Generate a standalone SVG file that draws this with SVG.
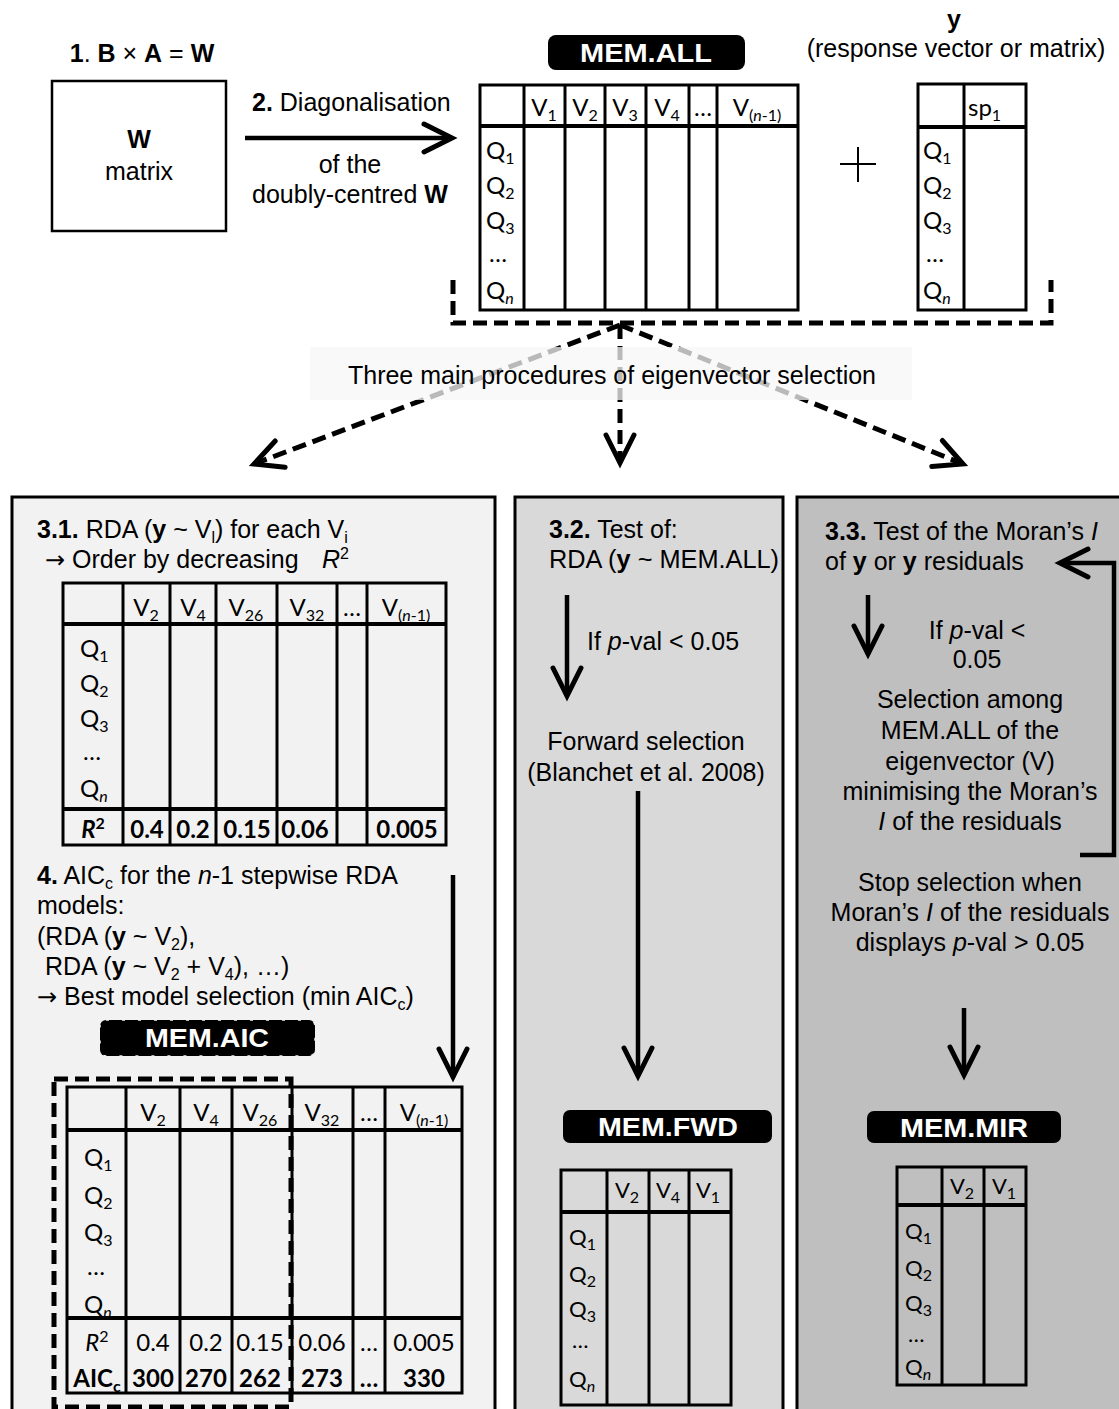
<svg xmlns="http://www.w3.org/2000/svg" width="1119" height="1409" viewBox="0 0 1119 1409">
<defs>
<style>
.t{font-family:"Liberation Sans",Arial,sans-serif;font-size:25px;fill:#000}
.c{font-family:Lato,"Open Sans","Liberation Sans",sans-serif;font-size:24px;fill:#000}
.c2{font-family:Lato,"Open Sans","Liberation Sans",sans-serif;font-size:22px;fill:#000}
.m{text-anchor:middle}
.b{font-weight:bold}
.i{font-style:italic}
.s{font-size:16px}
.ar{font-family:"DejaVu Sans",sans-serif;font-size:24px}
.lab{font-family:"Liberation Sans",Arial,sans-serif;font-size:25px;font-weight:bold;fill:#fff;text-anchor:middle}
.grid{fill:none;stroke:#000;stroke-width:3}
.hl{stroke:#000;stroke-width:4;fill:none}
.vl{stroke:#000;stroke-width:3;fill:none}
.arr{fill:none;stroke:#000;stroke-width:4.5;marker-end:url(#chev)}
.dash{fill:none;stroke:#000;stroke-width:5;stroke-dasharray:14 7}
.panel{stroke:#000;stroke-width:3}
</style>
<marker id="chev" markerUnits="userSpaceOnUse" viewBox="0 0 40 40" markerWidth="40" markerHeight="40" refX="37" refY="20" orient="auto" overflow="visible">
<path d="M9,6 L37,20 L9,34" fill="none" stroke="#000" stroke-width="5" stroke-linecap="round"/>
</marker>
</defs>
<rect x="0" y="0" width="1119" height="1409" fill="#fff"/>

<!-- Step 1: W matrix -->
<g id="w-matrix">
<text class="t m" x="142" y="62"><tspan class="b">1</tspan>. <tspan class="b">B</tspan> × <tspan class="b">A</tspan> = <tspan class="b">W</tspan></text>
<rect x="52" y="81" width="174" height="150" fill="#fff" stroke="#000" stroke-width="2.5"/>
<text class="t m b" x="139" y="148">W</text>
<text class="t m" x="139" y="180">matrix</text>
</g>

<!-- Step 2 label -->
<g id="diag-label">
<text class="t" x="252" y="111"><tspan class="b">2.</tspan> Diagonalisation</text>
<text class="t m" x="350" y="173">of the</text>
<text class="t m" x="350" y="203">doubly-centred <tspan class="b">W</tspan></text>
</g>

<!-- MEM.ALL -->
<g id="mem-all">
<rect x="548" y="35" width="197" height="35" rx="8" fill="#000"/>
<text class="lab" x="646" y="62" textLength="132" lengthAdjust="spacingAndGlyphs">MEM.ALL</text>
<rect x="480" y="85" width="318" height="225" class="grid"/>
<path class="hl" d="M480,126H798"/>
<path class="vl" d="M524,85V310M565,85V310M605,85V310M646,85V310M689,85V310M717,85V310"/>
<text class="c m" x="544" y="116">V<tspan class="s" dy="5">1</tspan></text>
<text class="c m" x="585" y="116">V<tspan class="s" dy="5">2</tspan></text>
<text class="c m" x="625" y="116">V<tspan class="s" dy="5">3</tspan></text>
<text class="c m" x="667" y="116">V<tspan class="s" dy="5">4</tspan></text>
<text class="c m" x="703" y="116">…</text>
<text class="c m" x="757" y="116">V<tspan class="s" dy="5">(<tspan class="i">n</tspan>-1)</tspan></text>
<text class="c" x="486" y="159">Q<tspan class="s" dy="5">1</tspan></text>
<text class="c" x="486" y="194">Q<tspan class="s" dy="5">2</tspan></text>
<text class="c" x="486" y="229">Q<tspan class="s" dy="5">3</tspan></text>
<text class="c" x="489" y="262">…</text>
<text class="c" x="486" y="299">Q<tspan class="s i" dy="5">n</tspan></text>
</g>

<!-- plus -->
<g id="plus">
<path d="M840,164H876M858,147V182" stroke="#000" stroke-width="2" fill="none"/>
</g>

<!-- y response -->
<g id="y-response">
<text class="t m b" x="954" y="28">y</text>
<text class="t m" x="956" y="57">(response vector or matrix)</text>
<rect x="918" y="84" width="108" height="226" class="grid"/>
<path class="hl" d="M918,127H1026"/>
<path class="vl" d="M964,84V310"/>
<text class="c" x="968" y="116">sp<tspan class="s" dy="5">1</tspan></text>
<text class="c" x="923" y="159">Q<tspan class="s" dy="5">1</tspan></text>
<text class="c" x="923" y="194">Q<tspan class="s" dy="5">2</tspan></text>
<text class="c" x="923" y="229">Q<tspan class="s" dy="5">3</tspan></text>
<text class="c" x="926" y="262">…</text>
<text class="c" x="923" y="299">Q<tspan class="s i" dy="5">n</tspan></text>
</g>

<!-- Panels -->
<g id="panel-31">
<rect x="12" y="497" width="483" height="930" fill="#f2f2f2" class="panel"/>
</g>
<g id="panel-32">
<rect x="515" y="497" width="268" height="930" fill="#d9d9d9" class="panel"/>
</g>
<g id="panel-33">
<rect x="797" y="497" width="340" height="930" fill="#bfbfbf" class="panel"/>
</g>

<!-- Connectors -->
<g id="connectors">
<path class="arr" d="M245,138H452"/>
<path class="dash" d="M453,280V323H1051V280"/>
<path class="dash" d="M620,325L254,464" marker-end="url(#chev)"/>
<path class="dash" d="M620,325V463" marker-end="url(#chev)"/>
<path class="dash" d="M620,325L963,464" marker-end="url(#chev)"/>
<path class="arr" d="M453,875V1077"/>
<path class="arr" d="M567,595V696"/>
<path class="arr" d="M638,791V1076"/>
<path class="arr" d="M868,595V654"/>
<path class="arr" d="M964,1008V1075"/>
<path class="arr" d="M1080,855H1114V563H1060"/>
</g>

<!-- band label -->
<g id="three-procedures">
<rect x="310" y="347" width="602" height="53" fill="#f7f7f7" fill-opacity="0.75"/>
<text class="t m" x="612" y="384">Three main procedures of eigenvector selection</text>
</g>

<!-- Panel 3.1 content -->
<g id="step-31">
<text class="t" x="37" y="538"><tspan class="b">3.1.</tspan> RDA (<tspan class="b">y</tspan> ~ V<tspan class="s" dy="5">l</tspan><tspan dy="-5">) for each V</tspan><tspan class="s" dy="5">i</tspan></text>
<text class="t" x="45" y="568"><tspan class="ar">→</tspan> Order by decreasing<tspan class="i" x="322">R</tspan><tspan class="s" dy="-9">2</tspan></text>
<rect x="63" y="583" width="383" height="262" class="grid"/>
<path class="hl" d="M63,624H446M63,809H446"/>
<path class="vl" d="M123,583V845M170,583V845M216,583V845M277,583V845M337,583V845M367,583V845"/>
<text class="c m" x="146" y="616">V<tspan class="s" dy="5">2</tspan></text>
<text class="c m" x="193" y="616">V<tspan class="s" dy="5">4</tspan></text>
<text class="c m" x="246" y="616">V<tspan class="s" dy="5">26</tspan></text>
<text class="c m" x="307" y="616">V<tspan class="s" dy="5">32</tspan></text>
<text class="c m" x="352" y="616">…</text>
<text class="c m" x="406" y="616">V<tspan class="s" dy="5">(<tspan class="i">n</tspan>-1)</tspan></text>
<text class="c" x="80" y="657">Q<tspan class="s" dy="5">1</tspan></text>
<text class="c" x="80" y="692">Q<tspan class="s" dy="5">2</tspan></text>
<text class="c" x="80" y="727">Q<tspan class="s" dy="5">3</tspan></text>
<text class="c" x="83" y="760">…</text>
<text class="c" x="80" y="797">Q<tspan class="s i" dy="5">n</tspan></text>
<text class="c m b" x="93" y="838"><tspan class="i">R</tspan><tspan class="s" dy="-9">2</tspan></text>
<text class="c m b" x="147" y="838">0.4</text>
<text class="c m b" x="193" y="838">0.2</text>
<text class="c m b" x="247" y="838">0.15</text>
<text class="c m b" x="305" y="838">0.06</text>
<text class="c m b" x="407" y="838">0.005</text>
</g>

<!-- Panel step 4 content -->
<g id="step-4">
<text class="t" x="37" y="884"><tspan class="b">4.</tspan> AIC<tspan class="s" dy="5">c</tspan><tspan dy="-5"> for the </tspan><tspan class="i">n</tspan>-1 stepwise RDA</text>
<text class="t" x="37" y="914">models:</text>
<text class="t" x="37" y="945">(RDA (<tspan class="b">y</tspan> ~ V<tspan class="s" dy="5">2</tspan><tspan dy="-5">),</tspan></text>
<text class="t" x="45" y="975">RDA (<tspan class="b">y</tspan> ~ V<tspan class="s" dy="5">2</tspan><tspan dy="-5"> + V</tspan><tspan class="s" dy="5">4</tspan><tspan dy="-5">), …)</tspan></text>
<text class="t" x="37" y="1005"><tspan class="ar">→</tspan> Best model selection (min AIC<tspan class="s" dy="5">c</tspan><tspan dy="-5">)</tspan></text>
</g>

<g id="mem-aic">
<rect x="100" y="1020" width="215" height="36" rx="6" fill="#000"/>
<rect x="100" y="1020" width="215" height="36" rx="6" fill="none" stroke="#f2f2f2" stroke-width="1.5" stroke-dasharray="3 13"/>
<text class="lab" x="207" y="1047" textLength="124" lengthAdjust="spacingAndGlyphs">MEM.AIC</text>
<rect x="67" y="1087" width="395" height="306" class="grid"/>
<path class="hl" d="M67,1130H462M67,1318H462"/>
<path class="vl" d="M126,1087V1393M180,1087V1393M232,1087V1393M292,1087V1393M353,1087V1393M385,1087V1393"/>
<text class="c m" x="153" y="1121">V<tspan class="s" dy="5">2</tspan></text>
<text class="c m" x="206" y="1121">V<tspan class="s" dy="5">4</tspan></text>
<text class="c m" x="260" y="1121">V<tspan class="s" dy="5">26</tspan></text>
<text class="c m" x="322" y="1121">V<tspan class="s" dy="5">32</tspan></text>
<text class="c m" x="369" y="1121">…</text>
<text class="c m" x="424" y="1121">V<tspan class="s" dy="5">(<tspan class="i">n</tspan>-1)</tspan></text>
<text class="c" x="84" y="1166">Q<tspan class="s" dy="5">1</tspan></text>
<text class="c" x="84" y="1204">Q<tspan class="s" dy="5">2</tspan></text>
<text class="c" x="84" y="1241">Q<tspan class="s" dy="5">3</tspan></text>
<text class="c" x="87" y="1275">…</text>
<text class="c" x="84" y="1313">Q<tspan class="s i" dy="5">n</tspan></text>
<text class="c m" x="97" y="1351"><tspan class="i">R</tspan><tspan class="s" dy="-9">2</tspan></text>
<text class="c m" x="153" y="1351">0.4</text>
<text class="c m" x="206" y="1351">0.2</text>
<text class="c m" x="260" y="1351">0.15</text>
<text class="c m" x="322" y="1351">0.06</text>
<text class="c m" x="369" y="1351">…</text>
<text class="c m" x="424" y="1351">0.005</text>
<text class="c m b" x="97" y="1387">AIC<tspan class="s" dy="5">c</tspan></text>
<text class="c m b" x="153" y="1387">300</text>
<text class="c m b" x="206" y="1387">270</text>
<text class="c m b" x="260" y="1387">262</text>
<text class="c m b" x="322" y="1387">273</text>
<text class="c m b" x="369" y="1387">…</text>
<text class="c m b" x="424" y="1387">330</text>
<rect x="54" y="1079" width="237" height="328" class="dash"/>
</g>

<!-- Panel 3.2 content -->
<g id="step-32">
<text class="t" x="549" y="538"><tspan class="b">3.2.</tspan> Test of:</text>
<text class="t" x="549" y="568" textLength="230" lengthAdjust="spacingAndGlyphs">RDA (<tspan class="b">y</tspan> ~ MEM.ALL)</text>
<text class="t" x="587" y="650">If <tspan class="i">p</tspan>-val &lt; 0.05</text>
<text class="t m" x="646" y="750">Forward selection</text>
<text class="t m" x="646" y="781">(Blanchet et al. 2008)</text>
</g>
<g id="mem-fwd">
<rect x="563" y="1110" width="209" height="33" rx="7" fill="#000"/>
<text class="lab" x="668" y="1136" textLength="140" lengthAdjust="spacingAndGlyphs">MEM.FWD</text>
<rect x="561" y="1170" width="170" height="235" class="grid"/>
<path class="hl" d="M561,1212H731"/>
<path class="vl" d="M607,1170V1405M649,1170V1405M689,1170V1405"/>
<text class="c2 m" x="627" y="1198">V<tspan class="s" dy="5">2</tspan></text>
<text class="c2 m" x="668" y="1198">V<tspan class="s" dy="5">4</tspan></text>
<text class="c2 m" x="708" y="1198">V<tspan class="s" dy="5">1</tspan></text>
<text class="c2" x="569" y="1245">Q<tspan class="s" dy="5">1</tspan></text>
<text class="c2" x="569" y="1282">Q<tspan class="s" dy="5">2</tspan></text>
<text class="c2" x="569" y="1317">Q<tspan class="s" dy="5">3</tspan></text>
<text class="c2" x="572" y="1348">…</text>
<text class="c2" x="569" y="1387">Q<tspan class="s i" dy="5">n</tspan></text>
</g>

<!-- Panel 3.3 content -->
<g id="step-33">
<text class="t" x="825" y="540"><tspan class="b">3.3.</tspan> Test of the Moran’s <tspan class="i">I</tspan></text>
<text class="t" x="825" y="570">of <tspan class="b">y</tspan> or <tspan class="b">y</tspan> residuals</text>
<text class="t m" x="977" y="639">If <tspan class="i">p</tspan>-val &lt;</text>
<text class="t m" x="977" y="668">0.05</text>
<text class="t m" x="970" y="708">Selection among</text>
<text class="t m" x="970" y="739">MEM.ALL of the</text>
<text class="t m" x="970" y="770">eigenvector (V)</text>
<text class="t m" x="970" y="800">minimising the Moran’s</text>
<text class="t m" x="970" y="830"><tspan class="i">I</tspan> of the residuals</text>
<text class="t m" x="970" y="891">Stop selection when</text>
<text class="t m" x="970" y="921">Moran’s <tspan class="i">I</tspan> of the residuals</text>
<text class="t m" x="970" y="951">displays <tspan class="i">p</tspan>-val &gt; 0.05</text>
</g>
<g id="mem-mir">
<rect x="867" y="1111" width="194" height="32" rx="7" fill="#000"/>
<text class="lab" x="964" y="1137" textLength="128" lengthAdjust="spacingAndGlyphs">MEM.MIR</text>
<rect x="897" y="1167" width="129" height="218" class="grid"/>
<path class="hl" d="M897,1205H1026"/>
<path class="vl" d="M942,1167V1385M984,1167V1385"/>
<text class="c2 m" x="962" y="1194">V<tspan class="s" dy="5">2</tspan></text>
<text class="c2 m" x="1004" y="1194">V<tspan class="s" dy="5">1</tspan></text>
<text class="c2" x="905" y="1239">Q<tspan class="s" dy="5">1</tspan></text>
<text class="c2" x="905" y="1276">Q<tspan class="s" dy="5">2</tspan></text>
<text class="c2" x="905" y="1311">Q<tspan class="s" dy="5">3</tspan></text>
<text class="c2" x="908" y="1342">…</text>
<text class="c2" x="905" y="1375">Q<tspan class="s i" dy="5">n</tspan></text>
</g>
</svg>
